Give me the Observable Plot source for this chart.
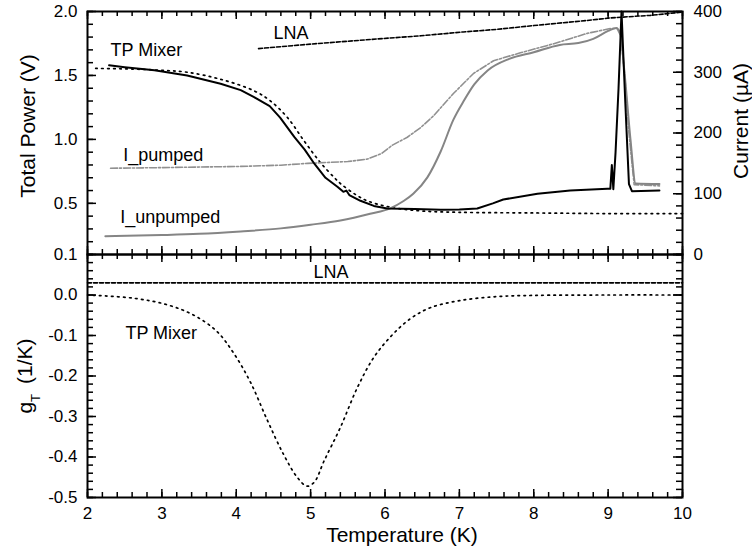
<!DOCTYPE html>
<html><head><meta charset="utf-8">
<script src="https://cdn.jsdelivr.net/npm/d3@7"></script>
<script src="https://cdn.jsdelivr.net/npm/@observablehq/plot@0.6"></script>
<style>
body{margin:0;background:#fff;}
#wrap{position:relative;width:752px;height:558px;font-family:"Liberation Sans",Arial,sans-serif;}
#wrap svg{position:absolute;left:0;overflow:visible;background:transparent;}
</style></head><body><div id="wrap"></div>
<script>
// ---------- Data: top panel ----------
// TP Mixer, measured total power (V)
const tpMixerT = [2.29,2.5,2.9,3.34,3.79,4.06,4.24,4.45,4.59,4.78,4.92,5.05,5.2,5.36,5.44,5.48,5.52,5.67,5.85,6.03,6.4,6.75,7.0,7.24,7.45,7.59,8.05,8.49,8.99,9.03,9.05,9.07,9.1,9.14,9.18,9.23,9.28,9.32,9.69];
const tpMixerV = [1.58,1.565,1.54,1.50,1.435,1.385,1.33,1.26,1.17,1.02,0.92,0.81,0.70,0.63,0.59,0.60,0.565,0.52,0.48,0.46,0.455,0.45,0.452,0.46,0.50,0.53,0.575,0.60,0.615,0.615,0.80,0.61,0.9,1.4,2.0,1.3,0.65,0.595,0.60];
// TP Mixer fit (V)
const tpFitT = [2.11,2.6,3.0,3.34,3.79,4.24,4.46,4.69,4.91,5.13,5.32,5.4,5.6,5.76,6.07,6.5,7.0,8.0,9.0,10.0];
const tpFitV = [1.555,1.55,1.54,1.525,1.47,1.38,1.30,1.17,0.99,0.82,0.70,0.655,0.57,0.52,0.47,0.44,0.43,0.425,0.42,0.42];
// LNA total power (V)
const lnaT = [4.30,5.0,5.89,6.48,7.05,7.5,8.0,8.72,9.03,9.57,10.0];
const lnaV = [1.71,1.745,1.785,1.81,1.84,1.86,1.89,1.93,1.95,1.97,1.995];
// Pumped current (uA)
const iPumpedT  = [2.31,3.0,4.06,4.6,4.96,5.5,5.76,5.95,6.1,6.3,6.48,6.65,6.92,7.19,7.46,7.82,8.27,8.72,9.03,9.12,9.17,9.22,9.28,9.35,9.69];
const iPumpedUA = [142,143,145,147,150,153,157,166,180,193,209,228,265,298,319,332,347,364,372,372,360,300,200,115,113];
// Unpumped current (uA)
const iUnpumpedT  = [2.24,3.0,3.5,4.06,4.6,5.0,5.4,5.8,6.07,6.25,6.38,6.57,6.75,6.92,7.06,7.2,7.38,7.67,8.0,8.35,8.6,8.8,9.0,9.11,9.16,9.22,9.3,9.37,9.69];
const iUnpumpedUA = [30,32,34,38,43,49,56,67,76,88,100,127,170,222,253,280,303,322,333,345,348,355,368,373,365,300,190,117,116];

// ---------- Data: bottom panel ----------
const gMixerT = [2.0,2.62,3.07,3.43,3.74,3.97,4.19,4.42,4.64,4.82,4.95,5.05,5.18,5.40,5.63,5.85,6.09,6.33,6.6,7.0,7.5,8.0,9.0,10.0];
const gMixerG = [0.0,-0.008,-0.024,-0.05,-0.09,-0.145,-0.215,-0.31,-0.395,-0.45,-0.472,-0.462,-0.41,-0.327,-0.228,-0.154,-0.10,-0.06,-0.032,-0.014,-0.004,-0.001,0.0,0.0];
const gLnaT = [2.0,10.0];
const gLnaG = [0.03,0.03];

// ---------- Labels ----------
const topLabelText = ["TP Mixer","LNA","I_pumped","I_unpumped"];
const topLabelT = [2.31,4.50,2.48,2.44];
const topLabelV = [1.695,1.83,0.874,0.39];
const botLabelText = ["LNA","TP Mixer"];
const botLabelT = [5.04,2.51];
const botLabelG = [0.056,-0.094];

// ---------- Ticks ----------
const xTickLabels = [2,3,4,5,6,7,8,9,10];
const vTickLabels = [0.1,0.5,1.0,1.5,2.0];
const vMajor = [0.5,1.0,1.5,2.0];
const uaTickLabels = [0,100,200,300,400];
const gTickLabels = [-0.5,-0.4,-0.3,-0.2,-0.1,0.0];
const gMajor = [-0.5,-0.4,-0.3,-0.2,-0.1,0.0,0.1];
const xMinor = d3.range(2, 10.001, 0.2);
const vMinor = d3.range(0.1, 2.0001, 0.1);
const uaMinor = d3.range(0, 400.1, 20);
const uaMajor = [0,100,200,300,400];
const gMinor = d3.range(-0.5, 0.1001, 0.02);

const toV = ua => 0.1 + ua / 400 * 1.9;
const fromV = v => Math.round((v - 0.1) / 1.9 * 400);

const W = 752, ML = 87, MR = 70, PH = 243, PW = W - ML - MR;
const font = '"Liberation Sans", Arial, sans-serif';
const grey = "#858585";
const tw = 1.5;

// inward tick helpers (drawn with tick marks through the scales)
const xTicksTop = (data, len) => Plot.tickX(data, {x: d => d, insetBottom: PH - len, strokeWidth: tw});
const xTicksBottom = (data, len) => Plot.tickX(data, {x: d => d, insetTop: PH - len, strokeWidth: tw});
const yTicksLeft = (data, len) => Plot.tickY(data, {y: d => d, insetRight: PW - len, strokeWidth: tw});
const yTicksRight = (data, len) => Plot.tickY(data, {y: d => d, insetLeft: PW - len, strokeWidth: tw});

const topPlot = Plot.plot({
  width: W, height: 254, marginLeft: ML, marginRight: MR, marginTop: 11, marginBottom: 0,
  style: {background: "transparent", overflow: "visible", fontFamily: font, fontSize: "17px", color: "#000"},
  x: {domain: [2, 10], axis: null},
  y: {domain: [0.1, 2.0], axis: null},
  marks: [
    xTicksTop(xMinor, 5), xTicksTop(xTickLabels, 8),
    xTicksBottom(xMinor, 5), xTicksBottom(xTickLabels, 8),
    yTicksLeft(vMinor, 6), yTicksLeft(vMajor, 9),
    yTicksRight(uaMinor.map(toV), 6), yTicksRight(uaMajor.map(toV), 9),
    // tick labels
    Plot.axisY(vTickLabels, {anchor: "left", tickSize: 0, tickPadding: 10, tickFormat: d => d.toFixed(1), label: null, fontSize: 17}),
    Plot.axisY(uaTickLabels.map(toV), {anchor: "right", tickSize: 0, tickPadding: 11, tickFormat: fromV, label: null, fontSize: 17}),
    // axis titles
    Plot.text(["Total Power (V)"], {frameAnchor: "left", textAnchor: "middle", rotate: -90, dx: -59, dy: -7, fontSize: 21}),
    Plot.text(["Current (\u00B5A)"], {frameAnchor: "right", textAnchor: "middle", rotate: -90, dx: 59, dy: -12, fontSize: 21}),
    // series
    Plot.line(tpFitT, {x: tpFitT, y: tpFitV, stroke: "#000", strokeWidth: 1.7, strokeDasharray: "1.6,4.4", curve: "catmull-rom"}),
    Plot.line(lnaT, {x: lnaT, y: lnaV, stroke: "#000", strokeWidth: 1.6, strokeDasharray: "4,2"}),
    Plot.line(iPumpedT, {x: iPumpedT, y: iPumpedUA.map(toV), stroke: "#909090", strokeWidth: 1.6, strokeDasharray: "7,2,2,2"}),
    Plot.line(iUnpumpedT, {x: iUnpumpedT, y: iUnpumpedUA.map(toV), stroke: grey, strokeWidth: 2, curve: "monotone-x"}),
    Plot.line(tpMixerT, {x: tpMixerT, y: tpMixerV, stroke: "#000", strokeWidth: 2}),
    // labels
    Plot.text(topLabelText, {x: topLabelT, y: topLabelV, text: d => d, textAnchor: "start", fontSize: 18}),
    Plot.frame({stroke: "#000", strokeWidth: 2})
  ]
});
topPlot.style.top = "0px";

const botPlot = Plot.plot({
  width: W, height: 304, marginLeft: ML, marginRight: MR, marginTop: 0, marginBottom: 61,
  style: {background: "transparent", overflow: "visible", fontFamily: font, fontSize: "17px", color: "#000"},
  x: {domain: [2, 10], axis: null},
  y: {domain: [-0.5, 0.1], axis: null},
  marks: [
    xTicksTop(xMinor, 5), xTicksTop(xTickLabels, 8),
    xTicksBottom(xMinor, 5), xTicksBottom(xTickLabels, 8),
    yTicksLeft(gMinor, 6), yTicksLeft(gMajor, 9),
    yTicksRight(gMinor, 6), yTicksRight(gMajor, 9),
    Plot.axisX(xTickLabels, {anchor: "bottom", tickSize: 0, tickPadding: 9, tickFormat: d => String(d), label: null, fontSize: 17}),
    Plot.axisY(gTickLabels, {anchor: "left", tickSize: 0, tickPadding: 10, tickFormat: d => d.toFixed(1), label: null, fontSize: 17}),
    Plot.text(["Temperature (K)"], {frameAnchor: "bottom", textAnchor: "middle", dx: 17, dy: 44, fontSize: 21}),
    Plot.text(["gT (1/K)"], {frameAnchor: "left", textAnchor: "middle", rotate: -90, dx: -62, dy: 0, fontSize: 21}),
    Plot.line(gLnaT, {x: gLnaT, y: gLnaG, stroke: "#000", strokeWidth: 1.6, strokeDasharray: "4,2"}),
    Plot.line(gMixerT, {x: gMixerT, y: gMixerG, stroke: "#000", strokeWidth: 1.7, strokeDasharray: "1.6,4.4", curve: "catmull-rom"}),
    Plot.text(botLabelText, {x: botLabelT, y: botLabelG, text: d => d, textAnchor: "start", fontSize: 18}),
    Plot.frame({stroke: "#000", strokeWidth: 2})
  ]
});
botPlot.style.top = "254px";

// subscript for g_T
d3.select(botPlot).selectAll("text").each(function() {
  if (this.textContent === "gT (1/K)") {
    d3.select(this).html('g<tspan baseline-shift="sub" font-size="13">T</tspan><tspan dx="10">(1/K)</tspan>');
  }
});

const wrap = document.getElementById("wrap");
wrap.appendChild(topPlot);
wrap.appendChild(botPlot);
</script>
</body></html>
